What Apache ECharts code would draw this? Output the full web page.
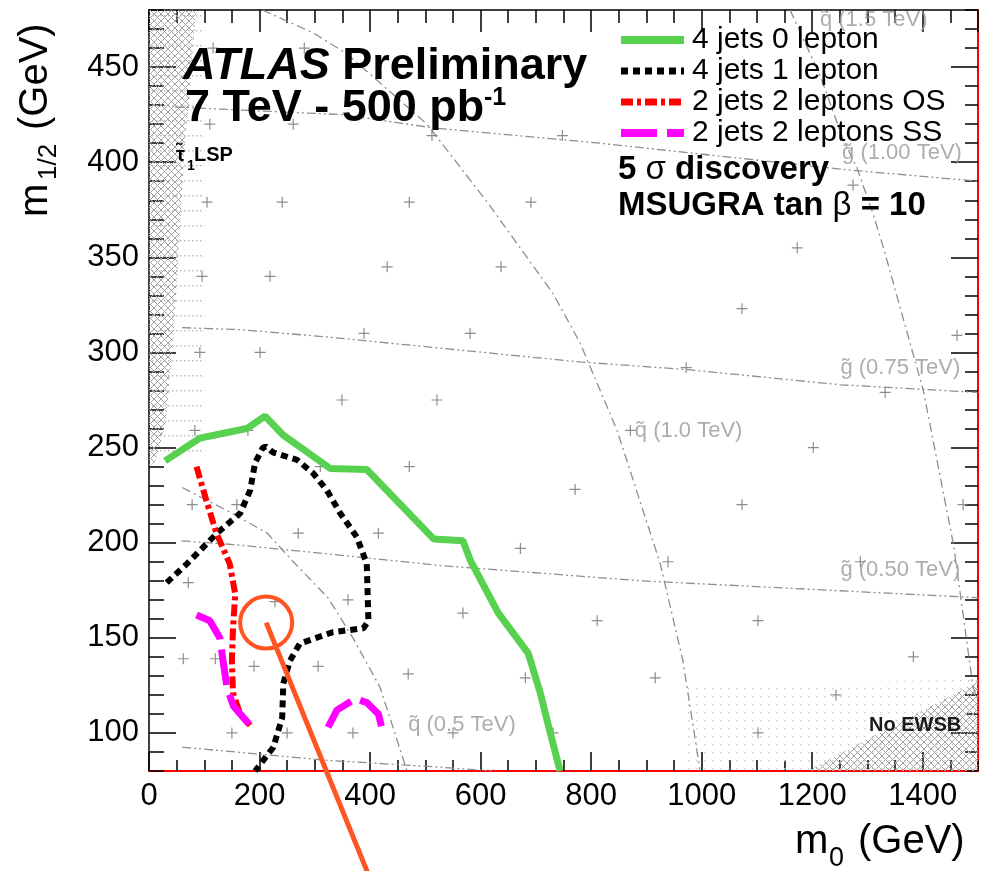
<!DOCTYPE html>
<html>
<head>
<meta charset="utf-8">
<script src="https://cdn.jsdelivr.net/npm/echarts@6/dist/echarts.min.js"></script>
<style>
html, body { margin: 0; padding: 0; background: #fff; }
#chart { width: 982px; height: 871px; }
</style>
</head>
<body>
<div id="chart"></div>
<script>
const FONT = '"Liberation Sans", Arial, Helvetica, sans-serif';

// discovery reach contours, [m0, m1/2] in GeV
const seriesNames = ['4 jets 0 lepton', '4 jets 1 lepton', '2 jets 2 leptons OS', '2 jets 2 leptons SS'];
const zeroLepton = [[29,243],[92,255],[177,260],[210,266.5],[243,256.5],[328,239],[394,238.5],[515,202],[568,201],[581,191],[632,163],[686,142],[708,121],[726,100],[744,80]];
const oneLepton = [[32,179],[69,189],[123,205],[165,215.5],[183,227.5],[192,242],[206,250],[212,250.5],[224,247.5],[268,243.5],[297,236.5],[322,227.5],[346,215.5],[376,203],[394,189],[397,159],[388,155],[333,153],[273,147],[255,138],[243,126],[241,108],[225,92.5],[192,80]];
const twoLepOS = [[86,240],[104,222],[122,205],[146,189],[156,173],[152,155],[150,138],[152,121],[165,110],[183,104]];
const twoLepSSa = [[86,162],[110,159],[128,150],[134,138],[141,124],[153,114],[186,103]];
const twoLepSSb = [[324,103],[340,112],[373,118],[394,116],[415,110],[421,103]];

// iso-mass contours
const gluino100 = [[47,429],[273,426],[351,425],[514,418],[816,410],[1263,396],[1500,390]];
const gluino075 = [[60,313],[165,312],[328,308],[780,295],[974,291],[1251,283],[1500,279]];
const gluino050 = [[59,201],[153,199],[327,194],[527,188],[889,180],[1473,171.5],[1500,171]];
const gluino035 = [[60,92.5],[324,85.6],[527,82],[620,80]];
const squark05 = [[60,229],[147,216],[214,205],[261,190],[324,171],[369,150],[418,124],[467,80]];
const squark10 = [[205,480],[297,468],[358,457],[503,420],[612,379],[731,331],[780,305],[847,259],[925,189],[966,138],[994,86],[997,80]];
const squark15 = [[1160,480],[1215,445],[1256,412],[1281,397],[1310,373],[1330,354],[1401,280],[1455,200],[1468,173],[1491,124],[1500,117]];
const contourLabels = ['q\u0303 (1.5 TeV)', 'g\u0303 (1.00 TeV)', 'g\u0303 (0.75 TeV)', 'q\u0303 (1.0 TeV)', 'g\u0303 (0.50 TeV)', 'q\u0303 (0.5 TeV)'];
const contourLabelPos = [[1214,475],[1254,405],[1251,292],[879,259],[1251,185.5],[469,104]];

// signal grid points
const gridPoints = [
  [116,460],[281,460],[110,420],[261,420],[512,414],[748,414],
  [105,379],[241,379],[471,379],[691,379],[1274,388],[1173,355],
  [96,340],[219,340],[431,345],[637,345],[1073,323],
  [389,310],[581,310],[1462,309],[92,300],[201,300],[972,292],[1332,279],
  [349,275],[521,275],[83,259],[179,259],[871,259],[1202,250],
  [310,240],[471,240],[771,228],[78,220],[159,220],[1073,220],[1473,220],
  [270,205],[415,205],[672,197],[939,190],[1287,190],[71,179],
  [360,170],[228,169],[568,163],[811,159],[1102,159],[1383,140],
  [62,139],[120,139],[190,135],[306,135],[469,131],[681,129],[916,129],
  [1243,120],[150,100],[250,100],[369,100],[550,100],[731,100],[1102,100]
];

// excluded regions
const stauDots = [[0,480],[100,480],[100,245],[0,245]];
const stauHatch = [[0,480],[85,480],[73,433],[64,406],[54,354],[45,312],[31,264],[12,243],[0,240]];
const ewsbDots = [[965,80],[965,126],[1500,128],[1500,80]];
const ewsbHatch = [[1190,80],[1500,127],[1500,80]];

const yMajorTicks = [100,150,200,250,300,350,400,450];

// annotation marker (circle + pointer)
const annotCenter = [212,158];
const annotTail = [395,27];

// line looks, shared by the plot and the legend
const reachColors = ['#57d14f', '#000000', '#ff0000', '#ff00ff'];
const reachWidths = [7, 6, 6, 7];
const reachDashes = ['solid', [7,5], [12,4,4,4], [36,10]];

function makePattern(w, h, draw) {
  const c = document.createElement('canvas');
  c.width = w; c.height = h;
  draw(c.getContext('2d'));
  return { image: c, repeat: 'repeat' };
}
const hatchFill = makePattern(7, 7, ctx => {
  ctx.strokeStyle = '#a2a2a2'; ctx.lineWidth = 1;
  ctx.beginPath(); ctx.moveTo(0,0); ctx.lineTo(7,7); ctx.moveTo(7,0); ctx.lineTo(0,7); ctx.stroke();
});
const lineDotFill = makePattern(4, 15, ctx => { ctx.fillStyle = '#bdbdbd'; ctx.fillRect(0,0,1.5,1.5); });
const gridDotFill = makePattern(8, 8, ctx => { ctx.fillStyle = '#cfcfcf'; ctx.fillRect(0,0,1.5,1.5); });

function regionSeries(points, fill) {
  return {
    type: 'custom', silent: true, z: 1, clip: true, data: [0],
    renderItem: (params, api) => ({
      type: 'polygon',
      shape: { points: points.map(p => api.coord(p)) },
      style: { fill: fill }
    })
  };
}
function contourSeries(data, dash) {
  return {
    type: 'line', data: data, symbol: 'none', silent: true, z: 2,
    lineStyle: { color: '#8e8e8e', width: 1.3, type: dash }
  };
}
function reachSeries(i, data) {
  return {
    name: seriesNames[i], type: 'line', data: data, symbol: 'none', z: 5,
    lineStyle: { color: reachColors[i], width: reachWidths[i], type: reachDashes[i], cap: 'butt' },
    itemStyle: { color: reachColors[i] }
  };
}

const gDash = [9,3,2,3,2,3];
const qDash = [9,4,2,4];

const chart = echarts.init(document.getElementById('chart'));
const option = {
  animation: false,
  backgroundColor: '#fff',
  grid: { left: 149, right: 4, top: 10, bottom: 100, outerBoundsMode: 'none' },
  legend: {
    data: seriesNames.map((n, i) => ({
      name: n,
      lineStyle: { color: reachColors[i], width: reachWidths[i] + 1, type: reachDashes[i], cap: 'butt' }
    })),
    orient: 'vertical', left: 612, top: 20,
    itemWidth: 63, itemHeight: 14, itemGap: 1, selectedMode: false,
    itemStyle: { opacity: 0 },
    textStyle: { fontFamily: FONT, fontSize: 30, color: '#000', lineHeight: 30, padding: [0,0,0,3] }
  },
  xAxis: [
    { type: 'value', position: 'bottom', min: 0, max: 1500, interval: 200,
      axisLine: { onZero: false, lineStyle: { color: '#ff0000', width: 2 } },
      axisTick: { inside: true, length: 19, lineStyle: { color: '#000', width: 1.5 } },
      axisLabel: { fontFamily: FONT, fontSize: 31, color: '#000', margin: 10, showMaxLabel: false,
                   formatter: v => String(v) },
      splitLine: { show: false } },
    { type: 'value', position: 'bottom', min: 0, max: 1500, interval: 50,
      axisLine: { show: false, onZero: false },
      axisTick: { inside: true, length: 11, lineStyle: { color: '#000', width: 1.5 } },
      axisLabel: { show: false }, splitLine: { show: false } },
    { type: 'value', position: 'top', min: 0, max: 1500, interval: 200,
      axisLine: { onZero: false, lineStyle: { color: '#000', width: 1.5 } },
      axisTick: { inside: true, length: 22, lineStyle: { color: '#000', width: 1.5 } },
      axisLabel: { show: false }, splitLine: { show: false } },
    { type: 'value', position: 'top', min: 0, max: 1500, interval: 50,
      axisLine: { show: false, onZero: false },
      axisTick: { inside: true, length: 13, lineStyle: { color: '#000', width: 1.5 } },
      axisLabel: { show: false }, splitLine: { show: false } }
  ],
  yAxis: [
    { type: 'value', position: 'left', min: 80, max: 480, interval: 10,
      axisLine: { show: true, onZero: false, lineStyle: { color: '#000', width: 1.5 } },
      axisTick: { inside: true, length: 15, lineStyle: { color: '#000', width: 1.5 } },
      axisLabel: { fontFamily: FONT, fontSize: 31, color: '#000', margin: 10,
                   formatter: v => (yMajorTicks.indexOf(v) >= 0 ? String(v) : '') },
      splitLine: { show: false } },
    { type: 'value', position: 'left', min: 80, max: 480,
      axisLine: { show: false, onZero: false },
      axisTick: { inside: true, length: 27, customValues: yMajorTicks, lineStyle: { color: '#000', width: 1.5 } },
      axisLabel: { show: false }, splitLine: { show: false } },
    { type: 'value', position: 'right', min: 80, max: 480, interval: 10,
      axisLine: { show: true, onZero: false, lineStyle: { color: '#ff0000', width: 2 } },
      axisTick: { inside: true, length: 13, lineStyle: { color: '#000', width: 1.5 } },
      axisLabel: { show: false }, splitLine: { show: false } },
    { type: 'value', position: 'right', min: 80, max: 480,
      axisLine: { show: false, onZero: false },
      axisTick: { inside: true, length: 27, customValues: yMajorTicks, lineStyle: { color: '#000', width: 1.5 } },
      axisLabel: { show: false }, splitLine: { show: false } }
  ],
  series: [
    regionSeries(stauDots, lineDotFill),
    regionSeries(stauHatch, hatchFill),
    regionSeries(ewsbDots, gridDotFill),
    regionSeries(ewsbHatch, hatchFill),
    contourSeries(gluino100, gDash),
    contourSeries(gluino075, gDash),
    contourSeries(gluino050, gDash),
    contourSeries(gluino035, gDash),
    contourSeries(squark05, qDash),
    contourSeries(squark10, qDash),
    contourSeries(squark15, qDash),
    { type: 'scatter', data: gridPoints, silent: true, z: 3,
      symbol: 'path://M0,5L10,5M5,0L5,10', symbolSize: 11,
      itemStyle: { color: 'none', borderColor: '#707070', borderWidth: 1.2 } },
    { type: 'scatter', silent: true, z: 4, symbolSize: 0,
      data: contourLabelPos.map((p, i) => ({ value: p, name: contourLabels[i] })),
      label: { show: true, position: 'right', distance: 0, formatter: '{b}',
               fontFamily: FONT, fontSize: 22, color: '#999' } },
    reachSeries(0, zeroLepton),
    reachSeries(1, oneLepton),
    reachSeries(2, twoLepOS),
    reachSeries(3, twoLepSSa),
    reachSeries(3, twoLepSSb)
  ]
};
chart.setOption(option);

const c0 = chart.convertToPixel({ gridIndex: 0 }, annotCenter);
const c1 = chart.convertToPixel({ gridIndex: 0 }, annotTail);

function txt(x, y, text, size, weight, extra) {
  return { type: 'text', x: x, y: y, z: 100,
    style: Object.assign({ text: text, fontFamily: FONT, fontSize: size, fontWeight: weight || 'normal',
      fill: '#000', align: 'left', verticalAlign: 'middle' }, extra || {}) };
}

chart.setOption({
  graphic: [
    txt(183, 67, '{i|ATLAS} {b|Preliminary}', 45, 'bold', {
      rich: { i: { fontFamily: FONT, fontSize: 45, fontWeight: 'bold', fontStyle: 'italic' },
              b: { fontFamily: FONT, fontSize: 45, fontWeight: 'bold' } } }),
    txt(185, 109, '7 TeV - 500 pb', 45, 'bold'),
    txt(484, 98, '-1', 25, 'bold'),
    txt(618, 170, '{b|5 }{g|\u03c3}{b| discovery}', 33, 'bold', {
      rich: { b: { fontFamily: FONT, fontSize: 33, fontWeight: 'bold' },
              g: { fontFamily: FONT, fontSize: 33, fontWeight: 'normal' } } }),
    txt(618, 206, '{b|MSUGRA tan }{g|\u03b2}{b| = 10}', 33, 'bold', {
      rich: { b: { fontFamily: FONT, fontSize: 33, fontWeight: 'bold' },
              g: { fontFamily: FONT, fontSize: 33, fontWeight: 'normal' } } }),
    txt(176, 155, '\u03c4\u0303', 20, 'bold'),
    txt(187, 166, '1', 14, 'bold'),
    txt(194, 155, 'LSP', 20, 'bold'),
    txt(869, 725, 'No EWSB', 20, 'bold', { fill: '#1a1a1a' }),
    // axis titles
    txt(795, 842, 'm', 40),
    txt(829, 859, '0', 27),
    txt(858, 842, '(GeV)', 40),
    Object.assign(txt(36, 217, 'm', 40), { rotation: Math.PI / 2 }),
    Object.assign(txt(49, 180, '1/2', 26), { rotation: Math.PI / 2 }),
    Object.assign(txt(36, 130, '(GeV)', 40), { rotation: Math.PI / 2 }),
    // annotation
    { type: 'circle', z: 110, shape: { cx: c0[0], cy: c0[1], r: 26 },
      style: { fill: 'none', stroke: '#ff5522', lineWidth: 4 } },
    { type: 'line', z: 110, shape: { x1: c0[0], y1: c0[1], x2: c1[0], y2: c1[1] },
      style: { stroke: '#ff5522', lineWidth: 5 } }
  ]
});
</script>
</body>
</html>
